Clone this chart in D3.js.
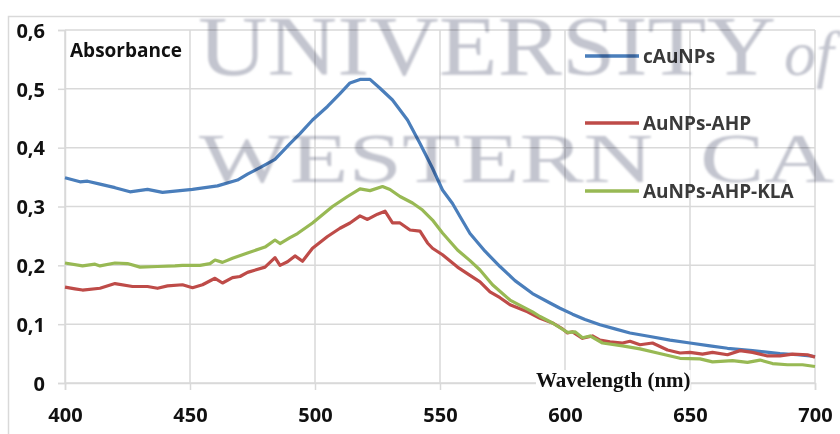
<!DOCTYPE html>
<html>
<head>
<meta charset="utf-8">
<script src="https://cdn.jsdelivr.net/npm/d3@7"></script>
<style>
  html, body { margin: 0; padding: 0; background: #fff; }
  svg { display: block; }
</style>
</head>
<body>
<svg width="840" height="434"></svg>
<script>
// wavelengths (nm) and absorbance
var cAuNPsWl  = [400,406,409,414,420,426,433,439,446,451,461,469,473,478,484,490,494,499,505,510,514,518,522,526,531,537,542,547,551,555,558,562,568,574,580,587,594,598,603,608,614,620,626,634,642,650,658,665,675,686,693,700];
var cAuNPsAbs = [.349,.342,.343,.338,.332,.325,.329,.324,.327,.329,.335,.345,.355,.366,.380,.407,.424,.447,.470,.492,.510,.516,.516,.501,.481,.447,.407,.365,.328,.305,.283,.254,.224,.198,.174,.152,.136,.127,.117,.108,.099,.092,.085,.079,.073,.068,.063,.059,.055,.050,.048,.045];

var ahpWl  = [400,404,407,414,420,427,433,437,441,447,451,455,460,463,467,470,473,480,484,486,489,492,495,499,505,510,514,518,521,525,528,531,534,538,542,545,547,551,557,562,566,570,574,578,585,590,595,599,601,603,607,611,614,618,623,626,630,635,641,646,650,655,659,665,670,675,681,686,691,697,700];
var ahpAbs = [.163,.160,.158,.161,.169,.164,.164,.161,.165,.167,.162,.167,.178,.170,.179,.181,.188,.197,.213,.200,.206,.216,.207,.229,.249,.263,.272,.284,.278,.287,.292,.272,.272,.260,.258,.238,.229,.218,.197,.183,.172,.155,.145,.133,.121,.110,.102,.092,.085,.087,.076,.080,.073,.070,.068,.071,.065,.068,.056,.051,.052,.049,.052,.048,.055,.052,.046,.046,.049,.048,.044];

var klaWl  = [400,407,412,414,420,425,430,437,444,447,454,458,460,463,467,473,480,484,486,490,493,499,507,513,518,522,527,530,534,539,543,547,551,557,562,566,571,578,587,590,595,601,604,607,610,615,623,630,637,646,654,659,667,673,678,683,689,695,700];
var klaAbs = [.204,.199,.202,.199,.204,.203,.197,.198,.199,.200,.200,.203,.209,.205,.212,.221,.231,.243,.237,.247,.254,.272,.300,.317,.330,.327,.334,.329,.317,.306,.294,.277,.255,.226,.208,.192,.167,.141,.121,.113,.102,.086,.087,.077,.080,.068,.063,.058,.051,.042,.041,.036,.038,.035,.039,.033,.031,.031,.028];

var seriesNames  = ["cAuNPs", "AuNPs-AHP", "AuNPs-AHP-KLA"];
var seriesColors = ["#4a7ebb", "#be4b48", "#98b954"];
var xTicks = [400, 450, 500, 550, 600, 650, 700];
var yTicks = [0, 0.1, 0.2, 0.3, 0.4, 0.5, 0.6];

var svg = d3.select("svg");
var grid_color = "#d9d9d9";
var label_font = "'Open Sans', 'DejaVu Sans', sans-serif";

var x = d3.scaleLinear().domain([400, 700]).range([65, 815]);
var y = d3.scaleLinear().domain([0, 0.6]).range([383, 30]);

svg.append("rect")
    .attr("width", 840).attr("height", 434)
    .attr("fill", "#fff");

// outer chart frame
svg.append("rect")
    .attr("x", 8.5).attr("y", 16.5)
    .attr("width", 840).attr("height", 440)
    .attr("fill", "none")
    .attr("stroke", grid_color)
    .attr("stroke-width", 1.5);

// gridlines
var grid = svg.append("g");
grid.selectAll(".h").data(yTicks).enter().append("line")
    .attr("x1", x(400)).attr("x2", x(700))
    .attr("y1", function (d) { return y(d); })
    .attr("y2", function (d) { return y(d); })
    .attr("stroke", grid_color).attr("stroke-width", 1.5);
grid.selectAll(".v").data(xTicks).enter().append("line")
    .attr("y1", y(0.6)).attr("y2", y(0))
    .attr("x1", function (d) { return x(d); })
    .attr("x2", function (d) { return x(d); })
    .attr("stroke", grid_color).attr("stroke-width", 1.5);

// axes
var yAxis = d3.axisLeft(y)
    .tickValues(yTicks)
    .tickSize(7)
    .tickPadding(13)
    .tickFormat(function (d) { return d === 0 ? "0" : d3.format(".1f")(d).replace(".", ","); });
var xAxis = d3.axisBottom(x)
    .tickValues(xTicks)
    .tickSize(7)
    .tickPadding(18)
    .tickFormat(d3.format("d"));

var gy = svg.append("g").attr("transform", "translate(" + x(400) + ",0)").call(yAxis);
var gx = svg.append("g").attr("transform", "translate(0," + y(0) + ")").call(xAxis);
[gx, gy].forEach(function (g) {
  g.select(".domain").attr("stroke", grid_color).attr("stroke-width", 1.5);
  g.selectAll(".tick line").attr("stroke", grid_color).attr("stroke-width", 1.5);
  g.selectAll(".tick text")
      .attr("font-family", label_font)
      .attr("font-size", 20)
      .attr("font-weight", "bold")
      .attr("fill", "#111");
});
gy.selectAll(".tick text").attr("dy", "0.36em");

// spectra
var line = d3.line()
    .x(function (d) { return x(d[0]); })
    .y(function (d) { return y(d[1]); });

var spectra = [
  d3.zip(cAuNPsWl, cAuNPsAbs),
  d3.zip(ahpWl, ahpAbs),
  d3.zip(klaWl, klaAbs)
];

svg.append("g").selectAll("path").data(spectra).enter().append("path")
    .attr("d", line)
    .attr("fill", "none")
    .attr("stroke", function (d, i) { return seriesColors[i]; })
    .attr("stroke-width", 3.2)
    .attr("stroke-linejoin", "round");

// axis titles
svg.append("text")
    .attr("x", 70).attr("y", 57)
    .attr("font-family", label_font)
    .attr("font-size", 19)
    .attr("font-weight", "bold")
    .attr("fill", "#111")
    .text("Absorbance");

var wl_box = svg.append("g");
var wl_text = wl_box.append("text")
    .attr("x", 536).attr("y", 387)
    .attr("font-family", "'Liberation Serif', 'Times New Roman', serif")
    .attr("font-size", 21)
    .attr("font-weight", "bold")
    .attr("fill", "#111")
    .text("Wavelength (nm)");
var bb = wl_text.node().getBBox();
wl_box.insert("rect", "text")
    .attr("x", bb.x).attr("y", bb.y + 2)
    .attr("width", bb.width).attr("height", bb.height - 2)
    .attr("fill", "#fff");

// legend
var legend_y = [56, 123, 191];
var legend = svg.append("g").selectAll("g").data(seriesNames).enter().append("g")
    .attr("transform", function (d, i) { return "translate(585," + legend_y[i] + ")"; });
legend.append("line")
    .attr("x1", 0).attr("x2", 54)
    .attr("stroke", function (d, i) { return seriesColors[i]; })
    .attr("stroke-width", 3.5);
legend.append("text")
    .attr("x", 58).attr("y", 7)
    .attr("font-family", label_font)
    .attr("font-size", 19)
    .attr("font-weight", "bold")
    .attr("fill", "#3a3a3a")
    .text(function (d) { return d; });

// scanned watermark behind the chart
var defs = svg.append("defs");
defs.append("filter").attr("id", "soft")
    .append("feGaussianBlur").attr("stdDeviation", 1.2);
var wm = svg.append("g")
    .attr("filter", "url(#soft)")
    .style("mix-blend-mode", "multiply")
    .attr("fill", "#c3c5cf")
    .attr("font-family", "'Liberation Serif', 'Times New Roman', serif");
wm.append("text")
    .attr("x", 198).attr("y", 75)
    .attr("font-size", 84)
    .attr("textLength", 578)
    .attr("lengthAdjust", "spacingAndGlyphs")
    .text("UNIVERSITY");
wm.append("text")
    .attr("x", 784).attr("y", 75)
    .attr("font-size", 64)
    .attr("font-style", "italic")
    .text("of");
wm.append("text")
    .attr("x", 199).attr("y", 182)
    .attr("font-size", 70)
    .attr("textLength", 454)
    .attr("lengthAdjust", "spacingAndGlyphs")
    .text("WESTERN");
wm.append("text")
    .attr("x", 700).attr("y", 182)
    .attr("font-size", 70)
    .attr("textLength", 134)
    .attr("lengthAdjust", "spacingAndGlyphs")
    .text("CA");
</script>
</body>
</html>
